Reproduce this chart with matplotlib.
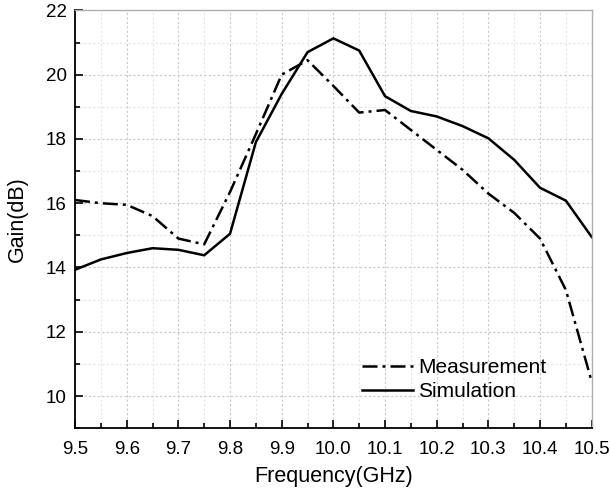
import numpy as np
import matplotlib.pyplot as plt
from matplotlib.ticker import MultipleLocator

plt.rcParams['font.family'] = ['Liberation Sans', 'DejaVu Sans']

freq = [9.50, 9.55, 9.60, 9.65, 9.70, 9.75, 9.80, 9.85, 9.90, 9.95, 10.00,
        10.05, 10.10, 10.15, 10.20, 10.25, 10.30, 10.35, 10.40, 10.45, 10.50]
measurement = [16.10, 16.00, 15.95, 15.60, 14.90, 14.72, 16.35, 18.15, 20.00, 20.45, 19.65,
               18.82, 18.90, 18.28, 17.66, 17.04, 16.30, 15.70, 14.90, 13.30, 10.45]
simulation = [13.93, 14.25, 14.45, 14.60, 14.55, 14.38, 15.05, 17.90, 19.40, 20.70, 21.13,
              20.75, 19.33, 18.87, 18.70, 18.40, 18.02, 17.35, 16.48, 16.08, 14.95]
xticks = [9.5, 9.6, 9.7, 9.8, 9.9, 10.0, 10.1, 10.2, 10.3, 10.4, 10.5]

fig = plt.figure(figsize=(6.1, 4.95), dpi=100)
ax = fig.add_axes([0.123, 0.135, 0.847, 0.844])

ax.plot(freq, measurement, color='black', lw=1.8, dashes=[6, 2, 1.2, 2],
        label='Measurement')
ax.plot(freq, simulation, color='black', lw=1.8, label='Simulation')

ax.set_xlim(9.5, 10.5)
ax.set_ylim(9, 22)
ax.set_xticks(xticks)
ax.set_xticklabels(['%.1f' % v for v in xticks])
ax.xaxis.set_minor_locator(MultipleLocator(0.05))
ax.yaxis.set_major_locator(MultipleLocator(2))
ax.yaxis.set_minor_locator(MultipleLocator(1))

ax.grid(which='major', color='#c8c8c8', ls=(0, (2, 2)), lw=0.8)
ax.grid(which='minor', color='#e4e4e4', ls=(0, (2, 2)), lw=0.8)
ax.set_axisbelow(True)

ax.tick_params(which='both', direction='in', top=False, right=False,
               labelsize=13.5, width=1.2)
ax.tick_params(which='major', length=6)
ax.tick_params(which='minor', length=3.5)
ax.tick_params(axis='x', pad=9)
ax.tick_params(axis='y', pad=6)
for s in ['left', 'bottom']:
    ax.spines[s].set_linewidth(1.3)
for s in ['top', 'right']:
    ax.spines[s].set_color('#b0b0b0')
    ax.spines[s].set_linewidth(1.0)

ax.set_xlabel('Frequency(GHz)', fontsize=15.5, labelpad=6)
ax.set_ylabel('Gain(dB)', fontsize=15.5, labelpad=13)

ax.legend(loc='upper left', bbox_to_anchor=(362 / 610, 1 - 358 / 495),
          bbox_transform=fig.transFigure, frameon=False,
          fontsize=15, handlelength=2.45, handletextpad=0.25, labelspacing=0.25,
          borderpad=0, borderaxespad=0)

fig.savefig('out.png', dpi=100)
